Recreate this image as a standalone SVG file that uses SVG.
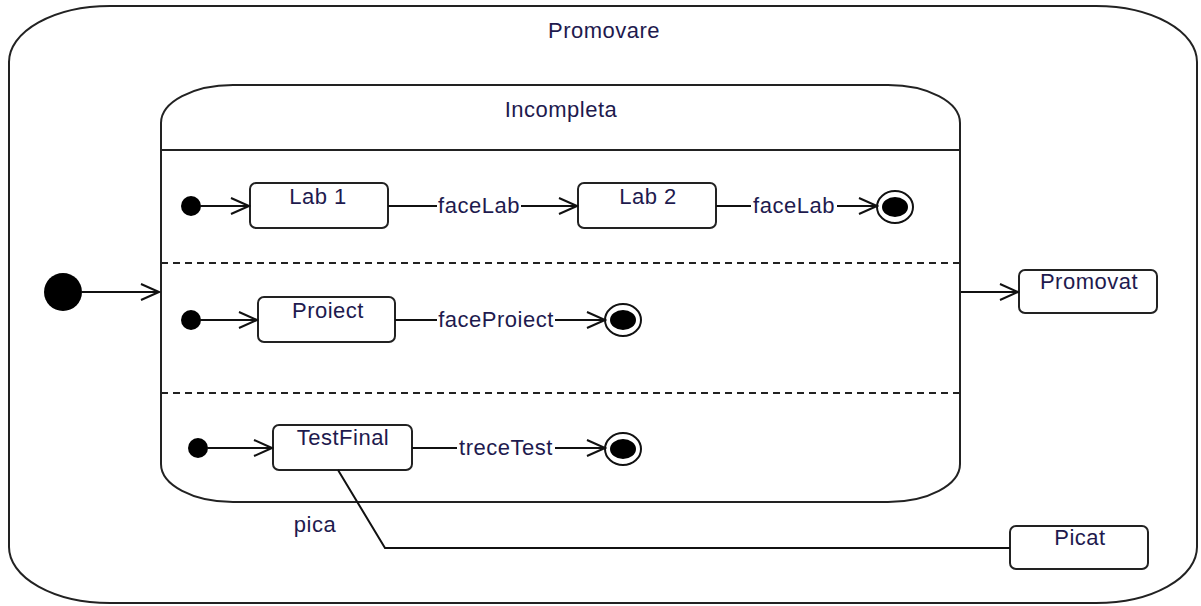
<svg xmlns="http://www.w3.org/2000/svg" width="1201" height="606" viewBox="0 0 1201 606">
<style>
.b{fill:none;stroke:#222;stroke-width:2}
.st{fill:#fff;stroke:#222;stroke-width:2}
.t{font-family:"Liberation Sans",Arial,sans-serif;font-size:22px;fill:#1e1a4e;text-anchor:middle;letter-spacing:0.5px}
.c{fill:none;stroke:#111;stroke-width:2}
.d{fill:none;stroke:#222;stroke-width:2;stroke-dasharray:7,5}
.dot{fill:#000}
</style>
<defs>
<marker id="oa" markerUnits="userSpaceOnUse" markerWidth="22" markerHeight="20" refX="20" refY="10" orient="auto">
<path d="M2,2 L20,10 L2,18" fill="none" stroke="#111" stroke-width="2"/>
</marker>
</defs>
<rect width="1201" height="606" fill="#fff"/>
<g id="promovare">
<path class="b" d="M110,6 H1096 A101,56 0 0 1 1197,62 V547 A101,56 0 0 1 1096,603 H110 A101,56 0 0 1 9,547 V62 A101,56 0 0 1 110,6 Z"/>
<text class="t" x="604" y="38">Promovare</text>
</g>
<g id="incompleta">
<path class="b" d="M233,85 H888 A72,38 0 0 1 960,123 V464 A72,38 0 0 1 888,502 H233 A72,38 0 0 1 161,464 V123 A72,38 0 0 1 233,85 Z"/>
<line class="b" x1="161" y1="150" x2="960" y2="150"/>
<line class="d" x1="161" y1="263" x2="960" y2="263"/>
<line class="d" x1="161" y1="393" x2="960" y2="393"/>
<text class="t" x="561" y="117">Incompleta</text>
</g>
<g id="init-main"><circle class="dot" cx="63" cy="292" r="19"/></g>
<g id="init1"><circle class="dot" cx="191" cy="206" r="10"/></g>
<g id="init2"><circle class="dot" cx="191" cy="320" r="10"/></g>
<g id="init3"><circle class="dot" cx="198" cy="448" r="10"/></g>
<g id="lab1"><rect class="st" x="250" y="183" width="138" height="45" rx="6"/><text class="t" x="318" y="204">Lab 1</text></g>
<g id="lab2"><rect class="st" x="578" y="183" width="138" height="45" rx="6"/><text class="t" x="648" y="204">Lab 2</text></g>
<g id="proiect"><rect class="st" x="258" y="297" width="137" height="45" rx="6"/><text class="t" x="328" y="318">Proiect</text></g>
<g id="testfinal"><rect class="st" x="273" y="425" width="139" height="45" rx="6"/><text class="t" x="343" y="445">TestFinal</text></g>
<g id="promovat"><rect class="st" x="1019" y="270" width="138" height="43" rx="6"/><text class="t" x="1089" y="289">Promovat</text></g>
<g id="picat"><rect class="st" x="1010" y="526" width="138" height="43" rx="6"/><text class="t" x="1080" y="545">Picat</text></g>
<g id="final1"><ellipse cx="895" cy="207" rx="18" ry="16" fill="#fff" stroke="#111" stroke-width="2"/><ellipse class="dot" cx="895" cy="207" rx="13" ry="10"/></g>
<g id="final2"><ellipse cx="623" cy="320" rx="18" ry="16" fill="#fff" stroke="#111" stroke-width="2"/><ellipse class="dot" cx="623" cy="320" rx="13" ry="10"/></g>
<g id="final3"><ellipse cx="623" cy="449" rx="18" ry="16" fill="#fff" stroke="#111" stroke-width="2"/><ellipse class="dot" cx="623" cy="449" rx="13" ry="10"/></g>
<g id="connectors">
<line class="c" x1="82" y1="292" x2="159" y2="292" marker-end="url(#oa)"/>
<line class="c" x1="200" y1="206" x2="249" y2="206" marker-end="url(#oa)"/>
<line class="c" x1="388" y1="206" x2="437" y2="206"/>
<line class="c" x1="521" y1="206" x2="577" y2="206" marker-end="url(#oa)"/>
<text class="t" x="479" y="213">faceLab</text>
<line class="c" x1="716" y1="206" x2="751" y2="206"/>
<line class="c" x1="837" y1="206" x2="877" y2="206" marker-end="url(#oa)"/>
<text class="t" x="794" y="213">faceLab</text>
<line class="c" x1="200" y1="320" x2="257" y2="320" marker-end="url(#oa)"/>
<line class="c" x1="395" y1="320" x2="437" y2="320"/>
<line class="c" x1="555" y1="320" x2="605" y2="320" marker-end="url(#oa)"/>
<text class="t" x="496" y="327">faceProiect</text>
<line class="c" x1="207" y1="448" x2="272" y2="448" marker-end="url(#oa)"/>
<line class="c" x1="412" y1="448" x2="457" y2="448"/>
<line class="c" x1="555" y1="448" x2="605" y2="448" marker-end="url(#oa)"/>
<text class="t" x="506" y="455">treceTest</text>
<line class="c" x1="961" y1="292" x2="1018" y2="292" marker-end="url(#oa)"/>
<polyline class="c" points="338,470 385,548 1010,548"/>
<text class="t" x="315" y="532">pica</text>
</g>
</svg>
